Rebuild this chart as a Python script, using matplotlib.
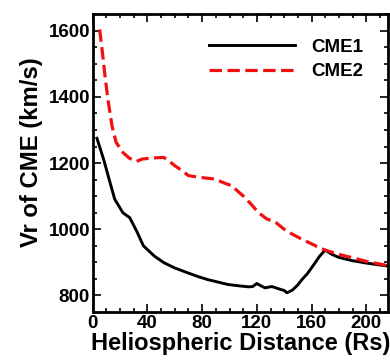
import numpy as np
import matplotlib
matplotlib.use('Agg')
import matplotlib.pyplot as plt
from matplotlib.ticker import MultipleLocator

plt.rcParams['font.family'] = ['Liberation Sans', 'DejaVu Sans']
plt.rcParams['font.weight'] = 'bold'

# CME1 (solid black)
cme1_r = [3, 8, 12, 16, 22, 27, 32, 37, 45, 52, 60, 69, 77, 84, 92, 99, 107, 114, 117,
          120, 123, 126, 131, 136, 140, 142, 146, 150, 153, 157, 161, 166, 170,
          175, 180, 190, 200, 210, 218]
cme1_v = [1275, 1210, 1150, 1091, 1050, 1035, 995, 950, 919, 899, 883, 869, 857, 848, 840, 833, 829, 826, 827,
          836, 829, 823, 827, 820, 815, 808, 816, 832, 848, 866, 889, 919, 937,
          924, 915, 905, 898, 892, 888]

# CME2 (red dashed)
cme2_r = [5, 7, 9, 11, 14, 17, 22, 27, 32, 36, 40, 46, 52, 56, 60, 65, 70, 76, 82, 89, 96,
          102, 106, 110, 116, 121, 127, 134, 140, 146, 152, 158, 164, 170,
          180, 190, 200, 210, 218]
cme2_v = [1604, 1535, 1460, 1394, 1313, 1263, 1232, 1214, 1205, 1212, 1214, 1216, 1217, 1205, 1192, 1178, 1162, 1158, 1155, 1152, 1140,
          1131, 1115, 1101, 1075, 1051, 1032, 1020, 1000, 985, 972, 960, 948, 937,
          924, 914, 903, 895, 888]

fig = plt.figure(figsize=(3.9, 3.63), dpi=100)
ax = fig.add_axes([0.238, 0.1405, 0.757, 0.8205])

ax.plot(cme1_r, cme1_v, color='black', lw=2.1, label='CME1')
ax.plot(cme2_r, cme2_v, color='#f01010', lw=2.3, ls=(0, (3.9, 1.7)), label='CME2')

ax.set_xlim(0, 216)
ax.set_ylim(750, 1650)
ax.xaxis.set_major_locator(MultipleLocator(40))
ax.xaxis.set_minor_locator(MultipleLocator(10))
ax.yaxis.set_major_locator(MultipleLocator(200))
ax.yaxis.set_minor_locator(MultipleLocator(50))
ax.tick_params(which='both', direction='in', top=True, right=True, labelsize=13.5, width=1.2, pad=2)
ax.tick_params(which='major', length=6)
ax.tick_params(which='minor', length=3)
for s in ax.spines.values():
    s.set_linewidth(2)

ax.set_xlabel('Heliospheric Distance (Rs)', fontsize=17, fontweight='bold', labelpad=0)
ax.set_ylabel('Vr of CME (km/s)', fontsize=17.2, fontweight='bold')
ax.yaxis.set_label_coords(-0.17, 0.537)

ax.legend(loc='upper right', frameon=False, fontsize=13.5, handlelength=4.6,
          handletextpad=0.9, borderaxespad=0.9, labelspacing=0.4)

fig.savefig('out.png', dpi=100)
